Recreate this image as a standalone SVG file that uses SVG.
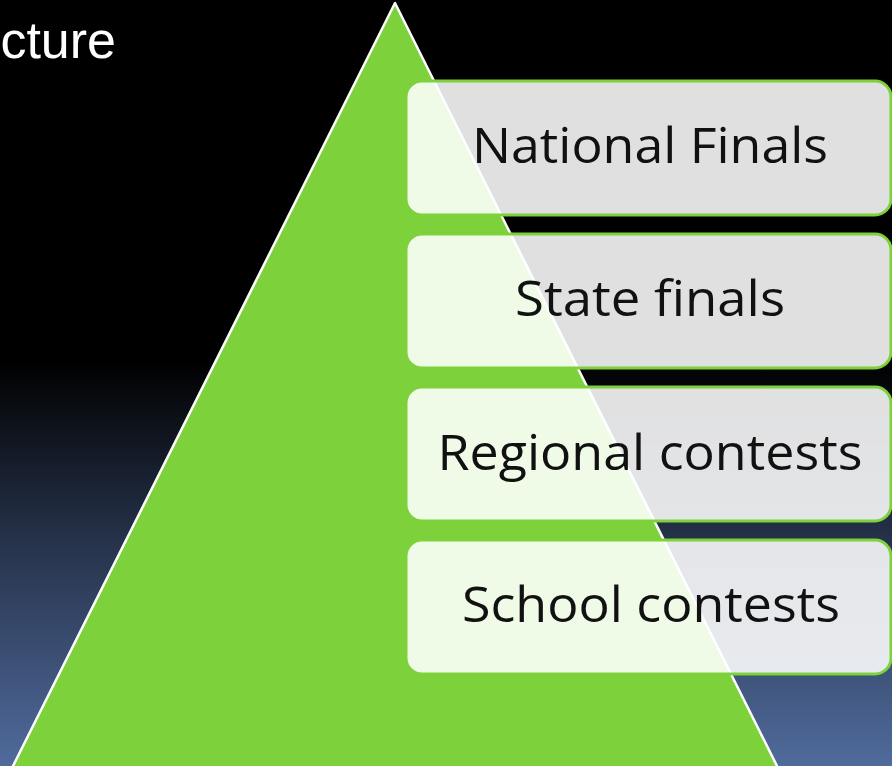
<svg xmlns="http://www.w3.org/2000/svg" width="892" height="766" viewBox="0 0 892 766">
<defs>
<linearGradient id="bg" x1="0" y1="0" x2="0" y2="766" gradientUnits="userSpaceOnUse">
<stop offset="0" stop-color="#000000"/>
<stop offset="0.47" stop-color="#000000"/>
<stop offset="0.7" stop-color="#253148"/>
<stop offset="1" stop-color="#506B9C"/>
</linearGradient>
</defs>
<style>
.box{fill:#ffffff;fill-opacity:0.88;stroke:#7DD13A;stroke-width:3}
.lbl{font-family:"Open Sans","Liberation Sans",sans-serif;font-size:50px;fill:#111111;text-anchor:middle}
</style>
<rect x="0" y="0" width="892" height="766" fill="url(#bg)"/>
<text x="116" y="58" font-family="Liberation Sans, Arial, sans-serif" font-size="52" fill="#ffffff" text-anchor="end">cture</text>
<g id="pyramid">
<polygon points="395,3 11,770 779,770" fill="#7DD13A" stroke="#ffffff" stroke-width="2.5" stroke-linejoin="round"/>
</g>
<g id="connectors"></g>
<g id="national">
<rect class="box" x="406" y="81" width="485" height="134" rx="16"/>
<text class="lbl" x="650" y="163" textLength="356" lengthAdjust="spacingAndGlyphs">National Finals</text>
</g>
<g id="state">
<rect class="box" x="406" y="234" width="485" height="134" rx="16"/>
<text class="lbl" x="650" y="316" textLength="270" lengthAdjust="spacingAndGlyphs">State finals</text>
</g>
<g id="regional">
<rect class="box" x="406" y="387" width="485" height="134" rx="16"/>
<text class="lbl" x="650" y="470" textLength="425" lengthAdjust="spacingAndGlyphs">Regional contests</text>
</g>
<g id="school">
<rect class="box" x="406" y="540" width="485" height="134" rx="16"/>
<text class="lbl" x="651" y="622" textLength="378" lengthAdjust="spacingAndGlyphs">School contests</text>
</g>
</svg>
